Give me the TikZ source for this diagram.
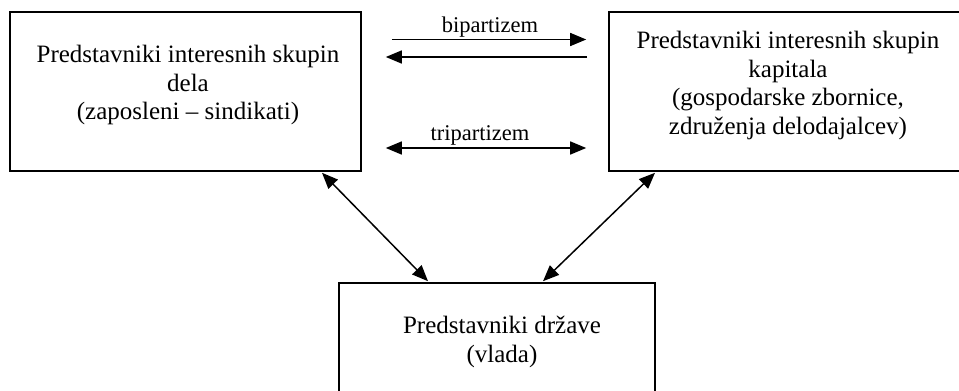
\documentclass[tikz,border=0pt]{standalone}
\usepackage{fontspec}
\setmainfont{Liberation Serif}
\usetikzlibrary{arrows.meta}
\begin{document}
\begin{tikzpicture}[x=1pt,y=-1pt,
  boxstyle/.style={draw=black,line width=1.6pt,rectangle,inner sep=0pt},
  boxtext/.style={align=center,inner sep=0pt,font=\fontsize{25}{28.5}\selectfont},
  labtext/.style={inner sep=0pt,font=\fontsize{22.5}{24}\selectfont},
  tip/.style={Triangle[length=16pt,width=13pt]},
  conn/.style={line width=1.5pt,-{Triangle[length=16pt,width=13pt]}},
  conn2/.style={line width=1.5pt,{Triangle[length=16pt,width=13pt]}-{Triangle[length=16pt,width=13pt]}}
]
\useasboundingbox (0,0) rectangle (959,391);
\fill[white] (0,0) rectangle (959,391);
\clip (0,0) rectangle (959,391);
% boxes
\node[boxstyle,minimum width=351pt,minimum height=159pt] (L) at (185.5,91.5) {};
\node[boxstyle,minimum width=358pt,minimum height=159pt] (R) at (788,91.5) {};
\node[boxstyle,minimum width=316pt,minimum height=118pt] (B) at (497,342) {};
% texts
\node[boxtext] (Lt) at (188,85) {Predstavniki interesnih skupin\\dela\\(zaposleni -- sindikati)};
\node[boxtext] (Rt) at (788,85.5) {Predstavniki interesnih skupin\\kapitala\\(gospodarske zbornice,\\združenja delodajalcev)};
\node[boxtext] (Bt) at (502,342) {Predstavniki države\\(vlada)};
% horizontal connectors
\draw[conn,shorten <=30pt,shorten >=22pt] ([yshift=52pt]L.east) -- ([yshift=52pt]R.west)
  node[labtext,pos=0.52,above=7pt,anchor=base] (bl) {bipartizem};
\draw[conn,shorten <=21pt,shorten >=24pt] ([yshift=34.5pt]R.west) -- ([yshift=34.5pt]L.east);
\draw[conn2,shorten <=24pt,shorten >=22pt] ([yshift=-56.5pt]L.east) -- ([yshift=-56.5pt]R.west)
  node[labtext,pos=0.48,above=8pt,anchor=base] (tl) {tripartizem};
% diagonal connectors
\draw[conn2] ([xshift=136.5pt,yshift=-1pt]L.south) -- ([xshift=-69pt,yshift=1pt]B.north);
\draw[conn2] ([xshift=-133pt,yshift=-1pt]R.south) -- ([xshift=46pt,yshift=1pt]B.north);
\end{tikzpicture}
\end{document}
